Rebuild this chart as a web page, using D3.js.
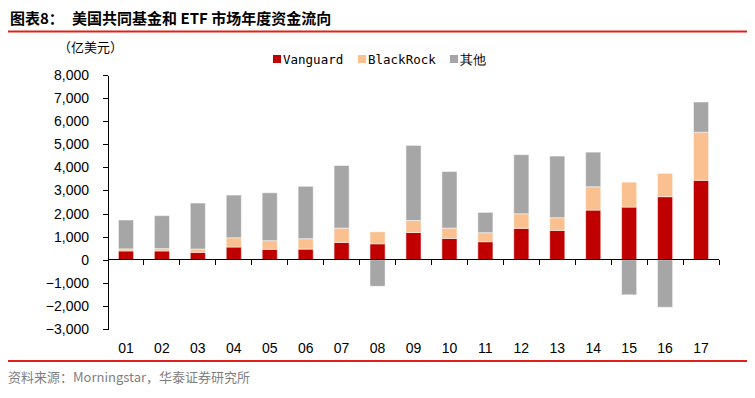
<!DOCTYPE html>
<meta charset="utf-8">
<style>
body {
  margin: 0;
  background: #fff;
  font-family: "Liberation Sans", Arial, sans-serif;
}
.axis path, .axis line {
  stroke: black;
  stroke-width: 1;
  shape-rendering: crispEdges;
}
.axis text {
  font-family: "Liberation Sans", Arial, sans-serif;
  font-size: 14px;
  fill: black;
}
</style>
<body>
<script src="https://cdn.jsdelivr.net/npm/d3@7"></script>
<script>

var years = ["01", "02", "03", "04", "05", "06", "07", "08", "09", "10", "11", "12", "13", "14", "15", "16", "17"];
var vanguard = [380, 380, 320, 550, 450, 460, 750, 690, 1180, 920, 780, 1360, 1270, 2150, 2280, 2730, 3440];
var blackrock = [90, 100, 145, 400, 375, 450, 620, 520, 520, 450, 390, 630, 550, 1010, 1080, 1010, 2080];
var other = [1250, 1430, 1990, 1850, 2075, 2270, 2710, -1150, 3250, 2450, 880, 2560, 2670, 1500, -1520, -2060, 1310];
var yTicks = [8000, 7000, 6000, 5000, 4000, 3000, 2000, 1000, 0, -1000, -2000, -3000];

var seriesNames = ["Vanguard", "BlackRock", "其他"];
var colors = ["#c00000", "#fac090", "#a6a6a6"];

var width = 755,
    height = 398;

var svg = d3.select("body").append("svg")
    .attr("width", width)
    .attr("height", height);

var rows = years.map(function(d, i) {
  return {year: d, "Vanguard": vanguard[i], "BlackRock": blackrock[i], "其他": other[i]};
});

var x = d3.scaleBand()
    .domain(years)
    .range([108, 719])
    .paddingInner(0.58)
    .paddingOuter(0.29);

var y = d3.scaleLinear()
    .domain([-3000, 8000])
    .range([329, 75]);

var stack = d3.stack()
    .keys(seriesNames)
    .offset(d3.stackOffsetDiverging);

var layers = stack(rows);

// title
svg.append("text")
    .attr("x", 10)
    .attr("y", 24)
    .style("font-family", "'Noto Sans CJK SC', sans-serif")
    .style("font-size", "15px")
    .style("font-weight", "bold")
    .text("图表8：");

svg.append("text")
    .attr("x", 72)
    .attr("y", 24)
    .style("font-family", "'Noto Sans CJK SC', sans-serif")
    .style("font-size", "15px")
    .style("font-weight", "bold")
    .text("美国共同基金和 ETF 市场年度资金流向");

svg.append("rect")
    .attr("x", 8).attr("y", 30.5)
    .attr("width", 739).attr("height", 2)
    .style("fill", "#e0201b");

svg.append("rect")
    .attr("x", 8).attr("y", 360)
    .attr("width", 739).attr("height", 2)
    .style("fill", "#e0201b");

svg.append("text")
    .attr("x", 8)
    .attr("y", 382)
    .style("font-family", "'Noto Sans CJK SC', sans-serif")
    .style("font-size", "13px")
    .style("fill", "#7f7f7f")
    .text("资料来源：Morningstar，华泰证券研究所");

// unit
svg.append("text")
    .attr("x", 58)
    .attr("y", 52)
    .style("font-family", "'Noto Sans CJK SC', sans-serif")
    .style("font-size", "13px")
    .text("（亿美元）");

// bars
svg.append("g").selectAll("g")
  .data(layers)
  .enter().append("g")
    .style("fill", function(d, i) { return colors[i]; })
  .selectAll("rect")
  .data(function(d) { return d; })
  .enter().append("rect")
    .attr("x", function(d) { return x(d.data.year); })
    .attr("y", function(d) { return y(Math.max(d[0], d[1])); })
    .attr("width", x.bandwidth())
    .attr("height", function(d) { return Math.abs(y(d[0]) - y(d[1])); })
    .style("stroke", "rgba(255,255,255,0.5)")
    .style("stroke-width", 1);

// y axis
svg.append("g")
    .attr("class", "axis")
    .attr("transform", "translate(108,0)")
    .call(d3.axisLeft(y).tickValues(yTicks).tickSize(5).tickPadding(14).tickSizeOuter(0).tickFormat(d3.format(",")));

// x axis at zero, ticks between categories
var xAxis = svg.append("g")
    .attr("class", "axis");

xAxis.append("line")
    .attr("x1", 108).attr("x2", 719)
    .attr("y1", y(0)).attr("y2", y(0));

var step = x.step();
xAxis.selectAll(".sep")
  .data(years)
  .enter().append("line")
    .attr("class", "sep")
    .attr("x1", function(d) { return x(d) - x.paddingOuter() * step + step; })
    .attr("x2", function(d) { return x(d) - x.paddingOuter() * step + step; })
    .attr("y1", y(0)).attr("y2", y(0) + 5);

xAxis.selectAll(".lab")
  .data(years)
  .enter().append("text")
    .attr("class", "lab")
    .attr("x", function(d) { return x(d) + x.bandwidth() / 2; })
    .attr("y", 353)
    .attr("text-anchor", "middle")
    .text(function(d) { return d; });

// legend
var legendX = [273, 358, 450];
var legend = svg.append("g").selectAll("g")
  .data(seriesNames)
  .enter().append("g")
    .attr("transform", function(d, i) { return "translate(" + legendX[i] + ",55)"; });

legend.append("rect")
    .attr("width", 8)
    .attr("height", 8)
    .style("fill", function(d, i) { return colors[i]; });

legend.append("text")
    .attr("x", 10)
    .attr("y", 8.5)
    .style("font-family", "'DejaVu Sans Mono', monospace")
    .style("font-size", "12.5px")
    .text(function(d) { return d; });

</script>
